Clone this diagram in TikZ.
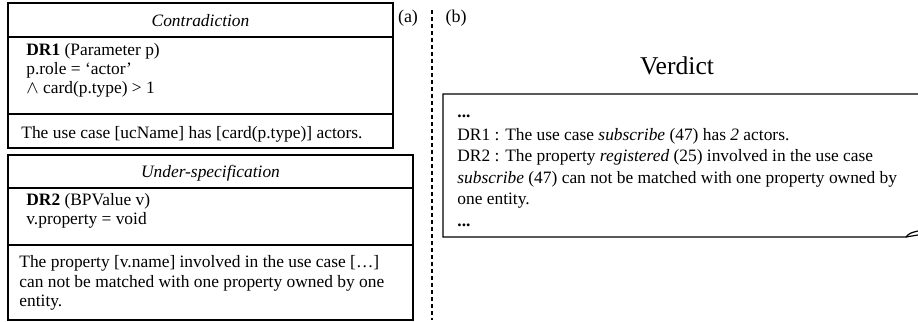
\documentclass[tikz,border=0pt]{standalone}
\usepackage{fontspec}
\setmainfont{Liberation Serif}
\usetikzlibrary{calc}

\begin{document}
\begin{tikzpicture}[x=0.5pt, y=-0.5pt,
        boxline/.style={line width=1pt},
        txt/.style={anchor=base west, inner sep=0pt, font=\fontsize{8.7}{10.4}\selectfont},
        vtxt/.style={anchor=base west, inner sep=0pt, font=\fontsize{8.7}{10.4}\selectfont}]
            \useasboundingbox (0,0) rectangle (918,322);

            % (a) Contradiction
            \draw[boxline] (8,3) rectangle (393,148);
            \draw[boxline] (8,37) -- (393,37);
            \draw[boxline] (8,114) -- (393,114);
            \node[txt, anchor=base] (ctitle) at (200.5,26) {\textit{Contradiction}};
            \node[txt] (dr1) at (26,55) {\textbf{DR1} (Parameter p)};
            \node[txt] (role) at (26,74) {p.role = ‘actor’};
            \node[txt] (card) at (26,93) {$\wedge$ card(p.type) > 1};
            \node[txt] (cmsg) at (21,138) {The use case [ucName] has [card(p.type)] actors.};

            % (a) Under-specification
            \draw[boxline] (8,155) rectangle (413,320);
            \draw[boxline] (8,188) -- (413,188);
            \draw[boxline] (8,245) -- (413,245);
            \node[txt, anchor=base] (utitle) at (210.5,177) {\textit{Under-specification}};
            \node[txt] (dr2) at (26,205) {\textbf{DR2} (BPValue v)};
            \node[txt] (prop) at (26,224) {v.property = void};
            \node[txt] (umsg1) at (19,267) {The property [v.name] involved in the use case […]};
            \node[txt] (umsg2) at (19,287) {can not be matched with one property owned by one};
            \node[txt] (umsg3) at (19,306) {entity.};

            \node[vtxt, anchor=base, font=\fontsize{9}{11}\selectfont] (a) at (408,22) {(a)};
            \node[vtxt, anchor=base, font=\fontsize{9}{11}\selectfont] (b) at (456,22) {(b)};

            % separator
            \coordinate (septop) at (432,10);
            \coordinate (sepbot) at (432,320);
            \draw[line width=1pt, dash pattern=on 2pt off 1.5pt] (septop) -- (sepbot);

            % (b) Verdict
            \node[anchor=base, inner sep=0pt, font=\fontsize{12.8}{15}\selectfont] (verdict) at (677,74) {Verdict};
            \draw[line width=0.6pt] (925,94) -- (443,94) -- (443,237) -- (906,237)
                .. controls (910,233) .. (918,231);
            \draw[line width=0.6pt] (906,237) -- (918,235);
            \node[vtxt] (dots1) at (457,117) {\textbf{...}};
            \node[vtxt] (v1) at (457,140) {DR1 : The use case \textit{subscribe} (47) has \textit{2} actors.};
            \node[vtxt] (v2) at (457,161) {DR2 : The property \textit{registered} (25) involved in the use case};
            \node[vtxt] (v3) at (457,183) {\textit{subscribe} (47) can not be matched with one property owned by};
            \node[vtxt] (v4) at (457,204) {one entity.};
            \node[vtxt] (dots2) at (457,226) {\textbf{...}};

        \end{tikzpicture}
\end{document}
